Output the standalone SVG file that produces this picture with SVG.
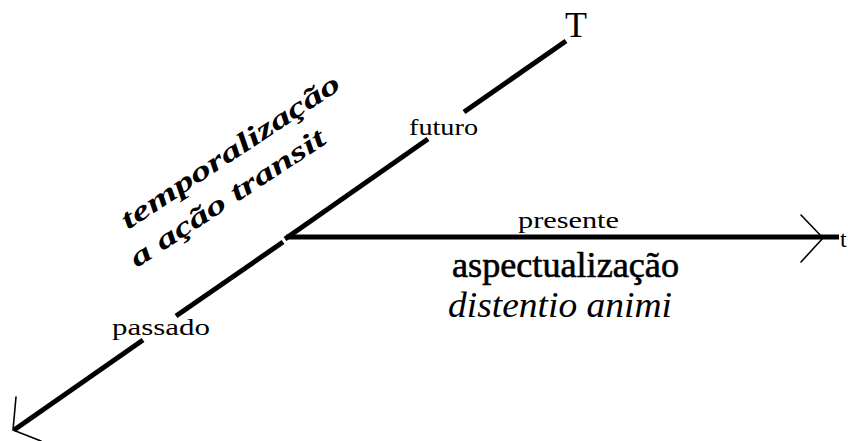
<svg xmlns="http://www.w3.org/2000/svg" width="848" height="441" viewBox="0 0 848 441">
<style>
.axis{stroke:#000;stroke-width:5;fill:none;stroke-linecap:butt}
.head{stroke:#000;stroke-width:1.6;fill:none;stroke-linecap:round;stroke-linejoin:round}
.lbl{font-family:"Liberation Serif","Times New Roman",serif;fill:#000}
.sm{font-size:24px}
.big{font-size:35px}
.heavy{stroke:#000;stroke-width:0.6}
.it{font-style:italic}
.rot{font-size:28px;font-style:italic;font-weight:bold}
</style>
<rect width="848" height="441" fill="#fff"/>
<g id="connectors">
  <line class="axis" x1="566" y1="41" x2="464" y2="112"/>
  <line class="axis" x1="428" y1="139" x2="285" y2="239"/>
  <line class="axis" x1="283" y1="242" x2="176" y2="316"/>
  <line class="axis" x1="143" y1="340" x2="14" y2="430"/>
  <polyline class="head" points="16,397 13,430 41,441"/>
  <line class="axis" x1="286" y1="237" x2="839" y2="237"/>
  <polyline class="head" points="801,215 823,238 801,262"/>
</g>
<g id="node-T"><text class="lbl" x="565" y="37" font-size="36">T</text></g>
<g id="node-futuro"><text class="lbl sm" x="409" y="135" textLength="69" lengthAdjust="spacingAndGlyphs">futuro</text></g>
<g id="node-presente"><text class="lbl sm" x="518" y="228" textLength="101" lengthAdjust="spacingAndGlyphs">presente</text></g>
<g id="node-passado"><text class="lbl sm" x="112" y="335" textLength="98" lengthAdjust="spacingAndGlyphs">passado</text></g>
<g id="node-aspectualizacao"><text class="lbl big heavy" x="452" y="277" textLength="227" lengthAdjust="spacingAndGlyphs">aspectualização</text></g>
<g id="node-distentio"><text class="lbl big it" x="448" y="317" textLength="224" lengthAdjust="spacingAndGlyphs">distentio animi</text></g>
<g id="node-temporalizacao">
  <text class="lbl rot" transform="translate(128,230) rotate(-33.5)" textLength="257" lengthAdjust="spacingAndGlyphs">temporalização</text>
  <text class="lbl rot" transform="translate(137,268) rotate(-33.3)" textLength="228" lengthAdjust="spacingAndGlyphs">a ação transit</text>
</g>
<g id="node-edge"><text class="lbl sm" x="840" y="247">t</text></g>
</svg>
